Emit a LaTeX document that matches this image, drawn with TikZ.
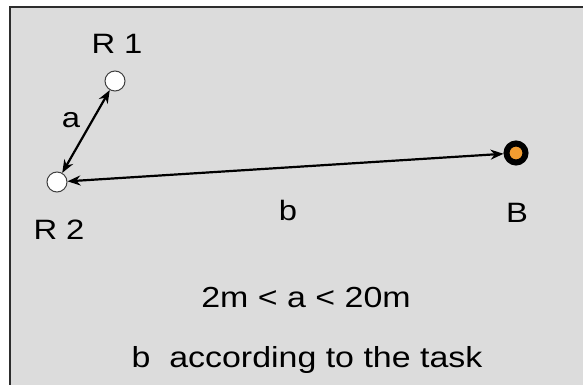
\documentclass[tikz,border=0pt]{standalone}
\usepackage{fontspec}
\setmainfont[FakeStretch=1.17]{Liberation Sans}
\usepackage{tikz}
\usetikzlibrary{arrows.meta, positioning}
\definecolor{panelgray}{RGB}{220,220,220}
\definecolor{framegray}{RGB}{45,45,45}
\definecolor{dotorange}{RGB}{242,156,48}
\tikzset{
  rdot/.style={circle, draw=black!75, fill=white, line width=1pt, minimum size=20pt, inner sep=0pt},
  bdot/.style={circle, draw=black, fill=dotorange, line width=6pt, minimum size=19pt, inner sep=0pt},
  lbl/.style={anchor=base, font=\fontsize{28}{30}\selectfont},
  txt/.style={anchor=base, font=\fontsize{29}{32}\selectfont},
  dist/.style={{Stealth[length=13pt,width=10pt]}-{Stealth[length=13pt,width=10pt]}, line width=2.2pt},
}

\begin{document}
\begin{tikzpicture}[x=1pt,y=-1pt]
        \useasboundingbox (0,0) rectangle (583,385);
        \fill[panelgray] (10,7) rectangle (590,392);
        \draw[framegray, line width=2pt] (10,392)--(10,7)--(590,7);
        \node[rdot] (r1) at (115,81) {};
        \node[rdot] (r2) at (57,182) {};
        \node[bdot] (bb) at (516,153) {};
        \draw[dist] (r1)--(r2);
        \draw[dist] (r2)--(bb);
        \node[lbl] (r1lbl) at (117,54) {R 1};
        \node[lbl] (r2lbl) at (59,239) {R 2};
        \node[lbl] (albl) at (71,128) {a};
        \node[lbl] (blbl) at (288,220) {b};
        \node[lbl] (bblbl) at (517,222) {B};
        \node[txt] (rng) at (306,307) {2m < a < 20m};
        \node[txt] (task) at (307,367) {b~~according to the task};
    \end{tikzpicture}
\end{document}
